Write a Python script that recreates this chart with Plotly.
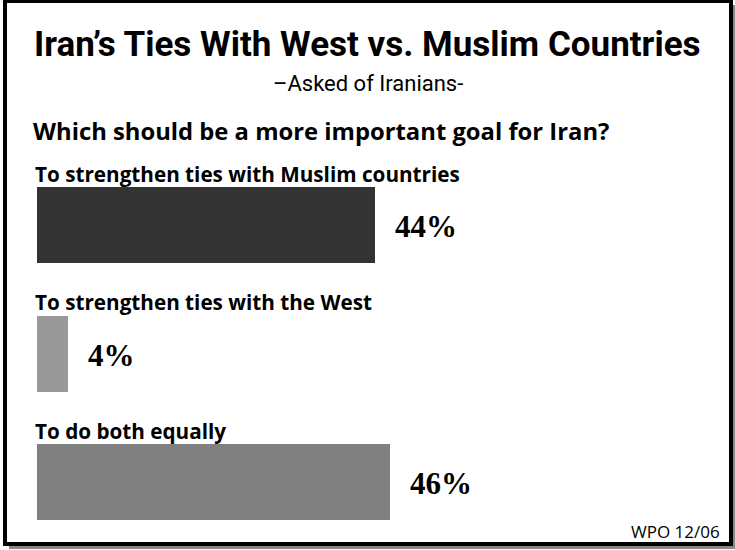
import plotly.graph_objects as go

categories = ["To strengthen ties with Muslim countries",
              "To strengthen ties with the West",
              "To do both equally"]
values = [44, 4, 46]
value_labels = ["44%", "4%", "46%"]
bar_colors = ["#333333", "#999999", "#808080"]

W, H = 735, 550

def px(x):
    return x / W

def py(y):
    return 1 - y / H

fig = go.Figure()
fig.add_trace(go.Bar(
    y=categories, x=values, orientation="h",
    marker=dict(color=bar_colors, line=dict(width=0)),
    width=0.59, hoverinfo="skip", showlegend=False,
))

annotations = []
for c, v, t in zip(categories, values, value_labels):
    annotations.append(dict(
        x=v, y=c, xref="x", yref="y", text=t, showarrow=False,
        xanchor="left", yanchor="middle", xshift=18, yshift=-1,
        font=dict(family="Liberation Serif, DejaVu Serif, serif", size=31, color="black", weight="bold"),
    ))
    annotations.append(dict(
        x=0, y=c, xref="x", yref="y", text=c, showarrow=False,
        xanchor="left", yanchor="middle", xshift=-4, yshift=52,
        font=dict(family="Open Sans, Noto Sans, sans-serif", size=20.7, color="black", weight="bold"),
    ))

annotations += [
    dict(x=0.5, y=py(45), xref="paper", yref="paper", showarrow=False,
         text="Iran\u2019s Ties With West vs. Muslim Countries", xanchor="center", yanchor="middle",
         font=dict(family="Roboto, sans-serif", size=35, color="black", weight="bold")),
    dict(x=0.5, y=py(84), xref="paper", yref="paper", showarrow=False,
         text="\u2013Asked of Iranians-", xanchor="center", yanchor="middle",
         font=dict(family="Roboto, sans-serif", size=22, color="black")),
    dict(x=px(31), y=py(131), xref="paper", yref="paper", showarrow=False,
         text="Which should be a more important goal for Iran?", xanchor="left", yanchor="middle",
         font=dict(family="Open Sans, Noto Sans, sans-serif", size=23.8, color="black", weight="bold")),
    dict(x=px(722), y=py(531), xref="paper", yref="paper", showarrow=False,
         text="WPO 12/06", xanchor="right", yanchor="middle",
         font=dict(family="Open Sans, Noto Sans, sans-serif", size=17, color="black")),
]

shapes = [
    dict(type="rect", xref="paper", yref="paper", layer="below",
         x0=px(9), x1=px(735), y0=py(549), y1=py(5),
         fillcolor="#888888", line=dict(width=0)),
    dict(type="rect", xref="paper", yref="paper", layer="below",
         x0=px(5), x1=px(731), y0=py(544), y1=py(1),
         fillcolor="white", line=dict(color="black", width=4)),
]

fig.update_layout(
    width=W, height=H,
    margin=dict(l=0, r=0, t=0, b=0),
    paper_bgcolor="white", plot_bgcolor="rgba(0,0,0,0)",
    xaxis=dict(domain=[px(37), 1], range=[0, 698 / 7.68], visible=False, fixedrange=True),
    yaxis=dict(domain=[py(546.75), py(161.25)], range=[2.5, -0.5], type="category",
               visible=False, fixedrange=True),
    annotations=annotations, shapes=shapes, bargap=0,
)

fig.write_html("out.html")
